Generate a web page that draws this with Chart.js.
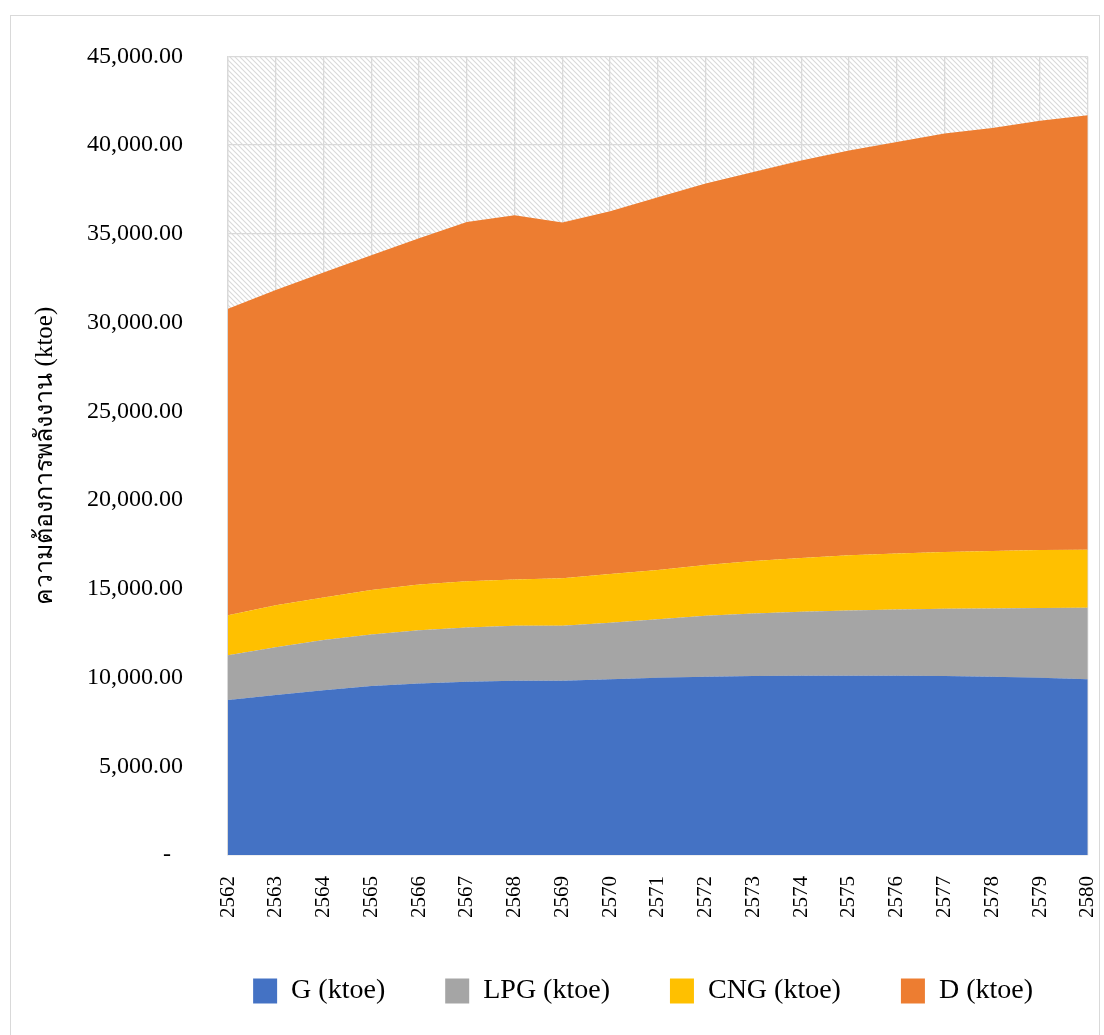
<!DOCTYPE html>
<html lang="th">
<head>
    <meta charset="UTF-8">
    <title>ความต้องการพลังงาน</title>
    <style>
        html, body {
            margin: 0;
            padding: 0;
            background-color: #ffffff;
            overflow: hidden;
        }

        .frame {
            position: absolute;
            left: 10px;
            top: 15px;
            width: 1090px;
            height: 1040px;
            border: 1px solid #d9d9d9;
            box-sizing: border-box;
        }

        .chart-clip {
            position: absolute;
            left: 0;
            top: 0;
            width: 1104px;
            height: 1035px;
            overflow: hidden;
        }

        /* a bit wider than the window: Chart.js keeps room on the right for the rotated last label */
        .chart-box {
            position: relative;
            top: -3px;
            width: 1134px;
            height: 1038px;
        }
    </style>
    <script src="https://cdn.jsdelivr.net/npm/chart.js"></script>
</head>
<body>
    <div class="frame"></div>
    <div class="chart-clip">
        <div class="chart-box">
            <canvas id="energyChart"></canvas>
        </div>
    </div>

    <script>
        // ปี พ.ศ.
        const years = ['2562', '2563', '2564', '2565', '2566', '2567', '2568', '2569', '2570', '2571',
                       '2572', '2573', '2574', '2575', '2576', '2577', '2578', '2579', '2580'];

        // ความต้องการพลังงานแยกตามเชื้อเพลิง (ktoe)
        const gasoline = [8730, 9010, 9290, 9520, 9670, 9760, 9820, 9820, 9900, 9990,
                          10040, 10080, 10100, 10100, 10100, 10080, 10040, 9990, 9910];
        const lpg = [2530, 2690, 2820, 2910, 3000, 3060, 3100, 3100, 3190, 3290,
                     3440, 3530, 3600, 3680, 3740, 3790, 3850, 3930, 4020];
        const cng = [2250, 2370, 2400, 2500, 2570, 2610, 2610, 2670, 2740, 2780,
                     2860, 2950, 3040, 3110, 3150, 3210, 3240, 3270, 3270];
        const diesel = [17270, 17760, 18310, 18870, 19520, 20240, 20520, 20050, 20440, 21000,
                        21500, 21920, 22400, 22810, 23180, 23570, 23840, 24180, 24490];

        const yTicks = [0, 5000, 10000, 15000, 20000, 25000, 30000, 35000, 40000, 45000];

        const serif = "'Liberation Serif', 'Times New Roman', serif";

        // ลายเส้นทแยงสำหรับพื้นหลังของพื้นที่กราฟ
        function makeHatch() {
            const size = 5;
            const c = document.createElement('canvas');
            c.width = size;
            c.height = size;
            const g = c.getContext('2d');
            g.fillStyle = '#ffffff';
            g.fillRect(0, 0, size, size);
            g.strokeStyle = '#d9d9d9';
            g.lineWidth = 1.1;
            g.beginPath();
            g.moveTo(-1, -1);
            g.lineTo(size + 1, size + 1);
            g.moveTo(-1, size - 1);
            g.lineTo(1, size + 1);
            g.moveTo(size - 1, -1);
            g.lineTo(size + 1, 1);
            g.stroke();
            return g.createPattern(c, 'repeat');
        }

        const hatchBackground = {
            id: 'hatchBackground',
            beforeDraw(chart) {
                const {ctx, chartArea} = chart;
                ctx.save();
                ctx.fillStyle = makeHatch();
                ctx.fillRect(chartArea.left, chartArea.top,
                             chartArea.right - chartArea.left, chartArea.bottom - chartArea.top);
                ctx.restore();
            }
        };

        function areaSet(label, data, color, fill) {
            return {
                label: label,
                data: data,
                backgroundColor: color,
                borderColor: color,
                borderWidth: 0,
                pointRadius: 0,
                tension: 0,
                fill: fill
            };
        }

        const ctx = document.getElementById('energyChart').getContext('2d');
        new Chart(ctx, {
            type: 'line',
            data: {
                labels: years,
                datasets: [
                    areaSet('G (ktoe)', gasoline, '#4472C4', 'origin'),
                    areaSet('LPG (ktoe)', lpg, '#A5A5A5', '-1'),
                    areaSet('CNG (ktoe)', cng, '#FFC000', '-1'),
                    areaSet('D (ktoe)', diesel, '#ED7D31', '-1')
                ]
            },
            options: {
                responsive: true,
                maintainAspectRatio: false,
                animation: false,
                layout: {
                    padding: { top: 50, left: 20, right: 41, bottom: 20 }
                },
                scales: {
                    x: {
                        offset: false,
                        grid: { color: '#d9d9d9', lineWidth: 1.3, drawTicks: false },
                        border: { color: '#d9d9d9', width: 1.3 },
                        ticks: {
                            color: '#000',
                            font: { family: serif, size: 21 },
                            minRotation: 90,
                            maxRotation: 90,
                            padding: 21,
                            autoSkip: false
                        },
                        afterFit(scale) { scale.height = 62; }
                    },
                    y: {
                        stacked: true,
                        min: 0,
                        max: 45000,
                        afterBuildTicks(scale) {
                            scale.ticks = yTicks.map(v => ({ value: v }));
                        },
                        grid: { color: '#d9d9d9', lineWidth: 1.3, drawTicks: false },
                        border: { color: '#d9d9d9', width: 1.3 },
                        ticks: {
                            color: '#000',
                            font: { family: serif, size: 24 },
                            padding: 45,
                            callback: v => v === 0 ? '-  ' :
                                v.toLocaleString('en-US', { minimumFractionDigits: 2, maximumFractionDigits: 2 })
                        },
                        title: {
                            display: true,
                            text: 'ความต้องการพลังงาน (ktoe)',
                            color: '#000',
                            font: { family: serif, size: 25 },
                            padding: { top: 10, bottom: 0 }
                        },
                        afterFit(scale) { scale.width = 208; }
                    }
                },
                plugins: {
                    legend: {
                        position: 'bottom',
                        align: 'end',
                        labels: {
                            color: '#000',
                            font: { family: serif, size: 28 },
                            boxWidth: 24,
                            boxHeight: 25,
                            padding: 60
                        }
                    },
                    tooltip: { enabled: false }
                }
            },
            plugins: [hatchBackground]
        });
    </script>
</body>
</html>
